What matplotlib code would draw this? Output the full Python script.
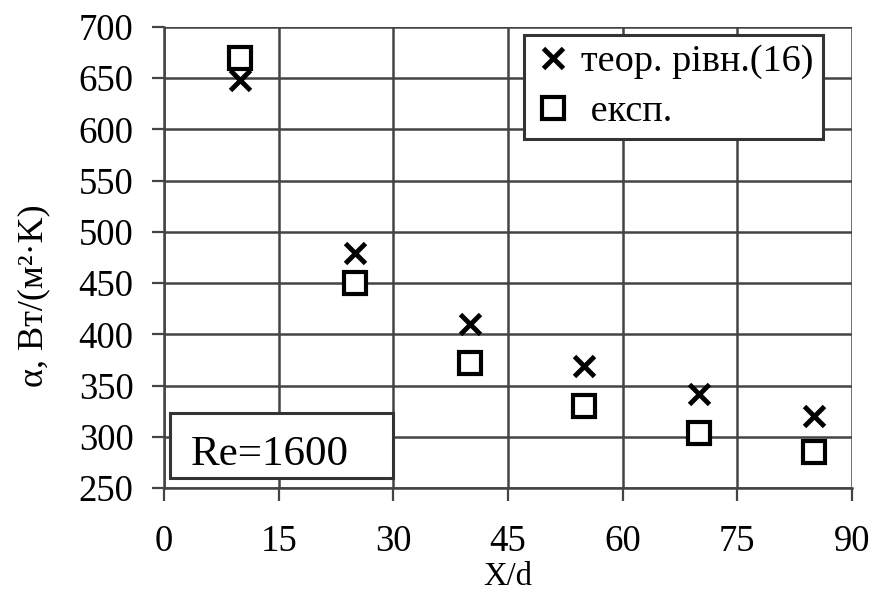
import matplotlib
matplotlib.use('Agg')
import matplotlib.pyplot as plt
from matplotlib.patches import Rectangle

plt.rcParams['font.family'] = ['Liberation Serif', 'DejaVu Serif']

x_d = [10, 25, 40, 55, 70, 85]
alpha_theor = [648, 479, 410, 369, 342, 320]
alpha_exp = [670, 450, 372, 330, 304, 285]

x_ticks = [0, 15, 30, 45, 60, 75, 90]
y_ticks = [250, 300, 350, 400, 450, 500, 550, 600, 650, 700]

fig = plt.figure(figsize=(8.77, 5.97), dpi=100)
ax = fig.add_axes([0.187, 0.1826, 0.7845, 0.7724])

ax.plot(x_d, alpha_theor, linestyle='none', marker='x', color='black',
        markersize=15, markeredgewidth=3.5, label='теор. рівн.(16)', zorder=3)
ax.plot(x_d, alpha_exp, linestyle='none', marker='s', color='black',
        markerfacecolor='white', markersize=16, markeredgewidth=3,
        label=' експ.', zorder=3)

ax.set_xlim(0, 90)
ax.set_ylim(250, 700)
ax.set_xticks(x_ticks)
ax.set_yticks(y_ticks)
ax.grid(True, color='#444444', linewidth=1.8)
ax.set_axisbelow(True)

for side in ['top', 'right']:
    ax.spines[side].set_visible(False)
for side in ['left', 'bottom']:
    ax.spines[side].set_color('#444444')
    ax.spines[side].set_linewidth(1.8)

ax.tick_params(axis='both', labelsize=26.5, length=9, width=1.6,
               color='#444444', direction='out')
ax.tick_params(axis='y', pad=13)
ax.tick_params(axis='x', pad=17)

ax.set_xlabel('X/d', fontsize=23.5)
ax.xaxis.set_label_coords(0.5, -0.159)
ax.set_ylabel('α, Вт/(м²·K)', fontsize=26)
ax.yaxis.set_label_coords(-0.165, 0.416)

leg = ax.legend(loc='upper right', bbox_to_anchor=(0.958, 0.983), fontsize=27.5,
                frameon=True, fancybox=False, edgecolor='#333333',
                handletextpad=0.25, handlelength=1.0, borderpad=0.25,
                labelspacing=0.4, borderaxespad=0)
leg.get_frame().set_linewidth(2.2)
leg.get_frame().set_alpha(1)

ax.add_patch(Rectangle((0.009, 0.022), 0.324, 0.141, transform=ax.transAxes,
                       facecolor='white', edgecolor='#333333', linewidth=2.2,
                       zorder=4))
ax.text(0.154, 0.05, 'Re=1600', transform=ax.transAxes, fontsize=31,
        ha='center', va='baseline', zorder=5)

fig.savefig('out.png', dpi=100)
